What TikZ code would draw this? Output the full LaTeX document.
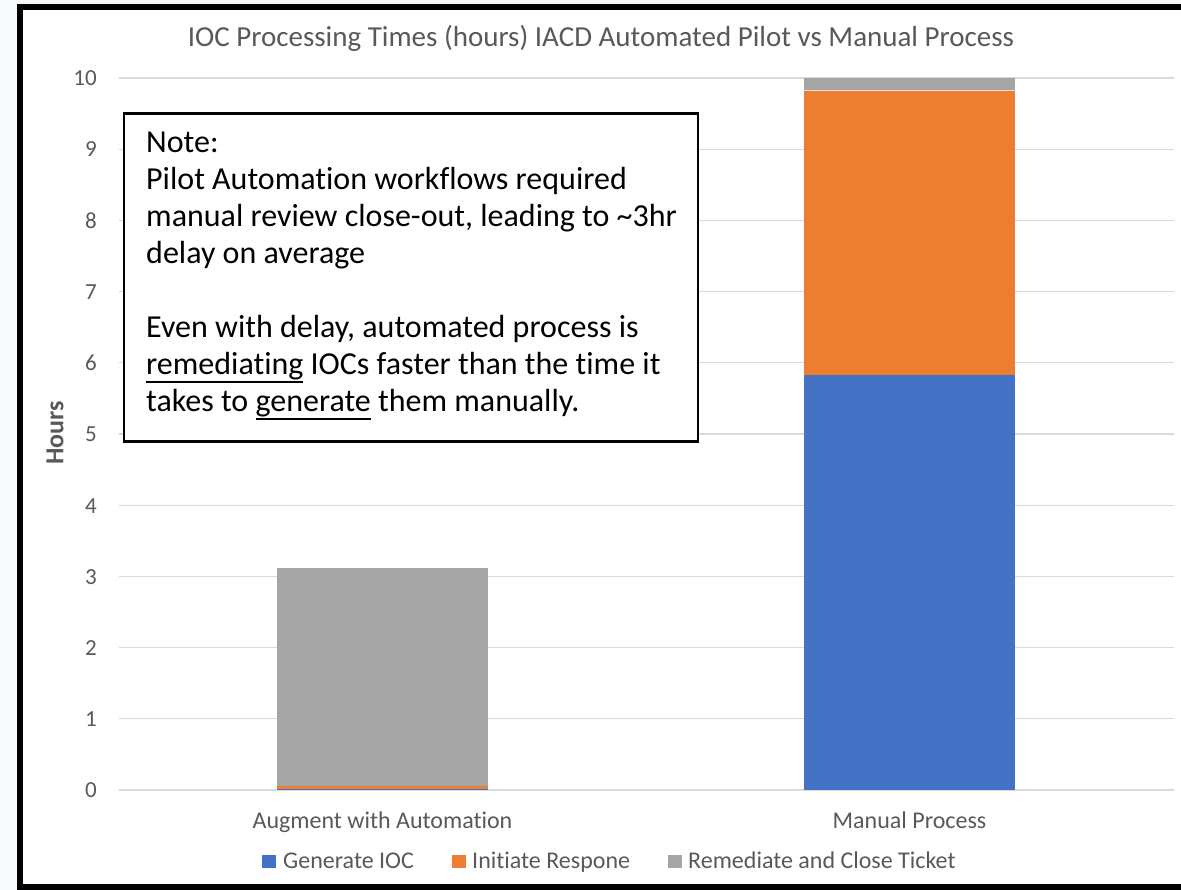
\documentclass[tikz,border=0pt]{standalone}
\usepackage{fontspec}
\setmainfont{Carlito}[Ligatures={NoCommon}]
\definecolor{pagebg}{HTML}{F8F9FB}
\definecolor{gridc}{HTML}{D9D9D9}
\definecolor{axistext}{HTML}{595959}
\definecolor{genioc}{HTML}{4472C4}
\definecolor{initresp}{HTML}{ED7D31}
\definecolor{remclose}{HTML}{A5A5A5}
\newcommand\setfs[2]{\fontsize{#1}{#2}\selectfont}
\newcommand\undr[1]{\setbox0\hbox{#1}\rlap{\rule[-8pt]{\wd0}{1.8pt}}\box0\relax}
\tikzset{
  ticklbl/.style={anchor=base east, inner sep=0pt, text=axistext, font=\setfs{23}{27}},
  catlbl/.style={anchor=base, inner sep=0pt, text=axistext, font=\setfs{24}{28}},
  leglbl/.style={anchor=base west, inner sep=0pt, text=axistext, font=\setfs{24}{28}},
  legsq/.style={inner sep=0pt, minimum size=13.5pt, draw=none},
  noteline/.style={anchor=base west, inner sep=0pt, text=black, font=\setfs{32}{37}},
  notebox/.style={draw=black, line width=2.5pt, fill=white, inner sep=0pt},
}
\begin{document}
\begin{tikzpicture}[x=1pt,y=-1pt]
\useasboundingbox (0,0) rectangle (1181,890);
\fill[pagebg] (0,0) rectangle (1181,890);
% chart area and its frame
\fill[white] (19.75,7) rectangle (1181,887);
\draw[black, line width=5.5pt] (1181,7) -- (19.75,7) -- (19.75,887) -- (1181,887);

% title
\node[anchor=base, inner sep=0pt, text=axistext, font=\setfs{29}{33}] (title) at (601,46.5)
  {IOC Processing Times (hours) IACD Automated Pilot vs Manual Process};

% gridlines and value labels
\foreach \v in {0,...,10} {
  \pgfmathsetmacro\yy{790-71.2*\v}
  \draw[gridc, line width=1.3pt] (119,\yy) -- (1174,\yy);
  \node[ticklbl] (tick\v) at (97,\yy+7.8) {\v};
}

% axis title
\node[rotate=90, inner sep=0pt, text=axistext, font=\bfseries\setfs{26}{30}] (ytitle) at (55,433) {Hours};

% stacked bars: Augment with Automation
\fill[genioc]   (277,790)   rectangle (488,788.6);
\fill[initresp] (277,788.6) rectangle (488,786);
\fill[remclose] (277,786)   rectangle (488,568);
% stacked bars: Manual Process
\fill[genioc]   (804,790)   rectangle (1015,375);
\fill[initresp] (804,375)   rectangle (1015,90.5);
\fill[remclose] (804,90.5)  rectangle (1015,78);
\draw[gridc!80!white, line width=1pt] (804,90.5) -- (1015,90.5);

% category labels
\node[catlbl] (catA) at (382.5,828) {Augment with Automation};
\node[catlbl] (catB) at (909.5,828) {Manual Process};

% legend
\node[legsq, fill=genioc, anchor=south west]   (sqA) at (262,868.5) {};
\node[leglbl] (legA) at (283,868) {Generate IOC};
\node[legsq, fill=initresp, anchor=south west] (sqB) at (452,868.5) {};
\node[leglbl] (legB) at (472,868) {Initiate Respone};
\node[legsq, fill=remclose, anchor=south west] (sqC) at (668,868.5) {};
\node[leglbl] (legC) at (688,868) {Remediate and Close Ticket};

% note box
\node[notebox, minimum width=574pt, minimum height=328pt] (note) at (411,277.5) {};
\node[noteline] (n1) at (146,153) {Note:};
\node[noteline] (n2) at (146,190) {Pilot Automation workflows required};
\node[noteline] (n3) at (146,227) {manual review close-out, leading to \textasciitilde3hr};
\node[noteline] (n4) at (146,264) {delay on average};
\node[noteline] (n5) at (146,338) {Even with delay, automated process is};
\node[noteline] (n6) at (146,375) {\undr{remediating} IOCs faster than the time it};
\node[noteline] (n7) at (146,412) {takes to \undr{generate} them manually.};
\end{tikzpicture}
\end{document}
